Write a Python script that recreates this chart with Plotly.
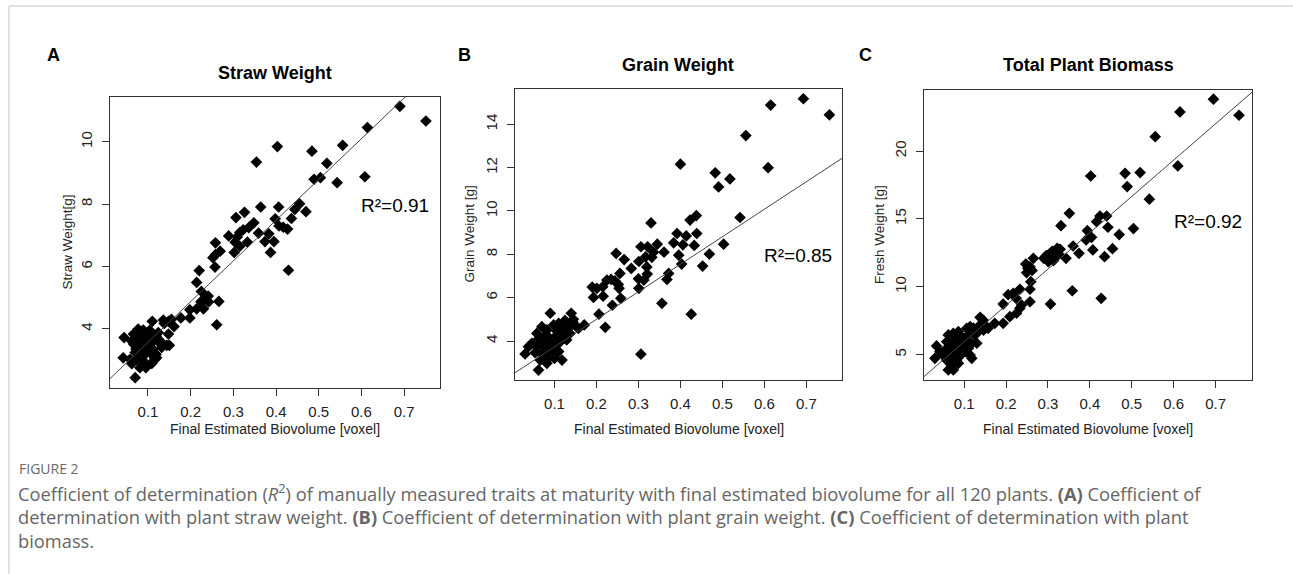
import plotly.graph_objects as go

W, H = 1293, 574

# ---------------- data ----------------
straw_x = [0.690, 0.751, 0.614, 0.608, 0.556, 0.519, 0.543, 0.504, 0.489, 0.484, 0.403, 0.354, 0.455, 0.444,
           0.470, 0.436, 0.427, 0.417, 0.407, 0.406, 0.398, 0.429, 0.364, 0.359, 0.374, 0.395, 0.387, 0.383,
           0.326, 0.306, 0.348, 0.336, 0.323, 0.315, 0.289, 0.309, 0.304, 0.333, 0.315, 0.302, 0.258, 0.269,
           0.258, 0.252, 0.257, 0.220, 0.214, 0.225, 0.241, 0.266, 0.231, 0.242,
           0.261, 0.224, 0.230, 0.214, 0.198, 0.198, 0.177, 0.161, 0.148, 0.136, 0.138, 0.110, 0.148, 0.124,
           0.119, 0.144, 0.150, 0.130, 0.120, 0.115, 0.109, 0.097, 0.081, 0.070, 0.062, 0.042, 0.044,
           0.077, 0.089, 0.066, 0.074, 0.085, 0.097, 0.105, 0.117, 0.066, 0.077, 0.089, 0.101, 0.112, 0.070,
           0.081, 0.093, 0.105, 0.058, 0.088, 0.074, 0.062, 0.079, 0.093, 0.109, 0.101, 0.132, 0.095, 0.119,
           0.116, 0.085, 0.098, 0.072, 0.090, 0.082, 0.104, 0.128, 0.155]
straw_y = [11.14, 10.67, 10.46, 8.88, 9.89, 9.31, 8.69, 8.85, 8.80, 9.70, 9.85, 9.35, 8.01, 7.83,
           7.76, 7.54, 7.20, 7.26, 7.30, 7.91, 7.53, 5.88, 7.91, 7.07, 6.80, 6.80, 6.45, 7.05,
           7.74, 7.57, 7.40, 7.25, 7.18, 7.09, 6.98, 6.95, 6.78, 6.78, 6.65, 6.45, 6.76, 6.49,
           6.38, 6.28, 5.98, 5.87, 5.49, 5.20, 5.05, 4.88, 4.93, 4.86,
           4.13, 4.87, 4.64, 4.64, 4.61, 4.35, 4.35, 4.07, 4.24, 4.28, 4.17, 4.24, 3.83, 3.88,
           3.77, 3.47, 3.47, 3.51, 3.07, 3.07, 2.89, 2.86, 2.75, 2.43, 2.88, 3.07, 3.72,
           3.99, 3.96, 3.83, 3.72, 3.67, 3.77, 3.67, 3.72, 3.51, 3.45, 3.40, 3.45, 3.34, 3.24,
           3.24, 3.18, 3.24, 3.02, 2.97, 3.02, 3.61, 3.86, 3.56, 3.56, 3.88, 3.40, 2.75, 3.18,
           3.02, 3.10, 3.30, 3.35, 3.60, 3.50, 3.95, 3.62, 4.30]

grain_x = [0.693, 0.755, 0.615, 0.609, 0.556, 0.518, 0.542, 0.491, 0.483, 0.503, 0.469, 0.453, 0.400, 0.438,
           0.423, 0.439, 0.414, 0.392, 0.384, 0.406, 0.433, 0.396, 0.403, 0.372, 0.368, 0.356, 0.426, 0.330,
           0.345, 0.361, 0.336, 0.322, 0.306, 0.332, 0.317, 0.301, 0.320, 0.321, 0.300, 0.313, 0.301, 0.283,
           0.266, 0.247, 0.256, 0.254, 0.258, 0.238, 0.235, 0.225, 0.215, 0.201, 0.190, 0.193, 0.216, 0.206,
           0.252, 0.244,
           0.221, 0.306, 0.171, 0.157, 0.140, 0.143, 0.129, 0.129, 0.118, 0.110, 0.090, 0.062, 0.030, 0.038,
           0.054, 0.082, 0.090,
           0.058, 0.070, 0.082, 0.098, 0.110, 0.121, 0.066, 0.078, 0.090, 0.102, 0.114, 0.058, 0.074, 0.090,
           0.102, 0.070, 0.086, 0.098, 0.066, 0.078, 0.137, 0.129, 0.141, 0.153, 0.046,
           0.095, 0.106, 0.085, 0.117, 0.074, 0.062, 0.100, 0.125, 0.145, 0.080]
grain_y = [15.18, 14.44, 14.89, 12.00, 13.48, 11.48, 9.70, 11.11, 11.76, 8.47, 8.01, 7.46, 12.16, 9.79,
           9.58, 8.96, 8.85, 8.96, 8.53, 8.44, 8.41, 7.96, 7.55, 7.12, 6.84, 5.74, 5.24, 9.45,
           8.47, 8.10, 8.10, 8.35, 8.35, 7.86, 7.88, 7.67, 7.42, 7.09, 6.87, 6.81, 6.43, 7.35,
           7.76, 8.04, 7.12, 6.43, 5.97, 5.65, 6.84, 6.81, 6.50, 6.43, 6.49, 6.01, 6.07, 5.24,
           6.61, 6.78,
           4.63, 3.39, 4.74, 4.58, 5.28, 4.89, 4.82, 4.05, 3.12, 3.51, 5.28, 2.66, 3.40, 3.74,
           3.46, 2.97, 3.28,
           4.35, 4.66, 4.51, 4.74, 4.82, 4.66, 4.05, 4.20, 4.05, 4.20, 3.97, 3.74, 3.74, 3.66,
           3.74, 3.43, 3.43, 3.43, 3.12, 3.20, 4.35, 4.51, 4.74, 4.66, 3.89,
           3.90, 4.45, 3.85, 4.25, 3.95, 4.10, 3.20, 4.95, 5.00, 4.30]

biomass_x = [0.695, 0.756, 0.615, 0.610, 0.556, 0.542, 0.520, 0.484, 0.489, 0.504, 0.470, 0.454, 0.435, 0.440,
             0.443, 0.424, 0.416, 0.404, 0.407, 0.394, 0.391, 0.402, 0.427, 0.358, 0.306, 0.351, 0.331, 0.374,
             0.360, 0.343, 0.329, 0.322, 0.305, 0.301, 0.313, 0.290, 0.265, 0.257, 0.247, 0.249, 0.259, 0.257,
             0.233, 0.217, 0.205, 0.224, 0.193, 0.237, 0.138, 0.209,
             0.257, 0.233, 0.225, 0.193, 0.173, 0.157, 0.138, 0.133, 0.114, 0.106, 0.126, 0.118, 0.130, 0.114,
             0.118, 0.110, 0.102, 0.034, 0.030, 0.062, 0.074, 0.070, 0.086, 0.058, 0.145, 0.153,
             0.062, 0.074, 0.086, 0.094, 0.058, 0.070, 0.082, 0.090, 0.054, 0.066, 0.078, 0.094, 0.050, 0.074,
             0.082, 0.102, 0.066, 0.098, 0.042, 0.078,
             0.296, 0.310, 0.318, 0.300, 0.326, 0.252, 0.262, 0.090, 0.086, 0.098, 0.070, 0.062, 0.110, 0.122,
             0.146]
biomass_y = [23.82, 22.64, 22.88, 18.90, 21.06, 16.45, 18.41, 18.36, 17.38, 14.28, 13.84, 12.80, 12.21, 15.21,
             14.38, 15.21, 14.79, 13.64, 12.71, 14.13, 13.44, 18.16, 9.14, 9.70, 8.72, 15.41, 14.50, 12.46,
             13.00, 12.09, 12.76, 12.83, 12.46, 11.84, 11.92, 12.09, 12.09, 11.47, 11.67, 11.03, 10.37, 9.81,
             9.81, 9.51, 9.41, 9.14, 8.72, 8.65, 7.74, 7.79,
             8.89, 8.41, 8.04, 7.30, 7.30, 6.93, 7.18, 6.68, 7.05, 6.93, 6.44, 5.83, 5.83, 4.96,
             4.72, 5.46, 6.07, 5.63, 4.72, 3.86, 3.86, 4.23, 4.35, 4.59, 7.54, 7.05,
             6.44, 6.56, 6.68, 6.31, 5.94, 5.83, 5.94, 5.58, 5.33, 5.21, 5.33, 5.09, 4.96, 4.84,
             4.59, 5.21, 5.58, 5.70, 5.21, 6.19,
             12.30, 12.60, 12.20, 12.00, 12.40, 11.35, 11.20, 4.90, 5.45, 6.00, 5.05, 4.75, 6.45, 6.95,
             6.80]

# fitted regression lines (intercept, slope) as drawn in the figure
fit_straw = [2.26, 13.07]
fit_grain = [2.46, 12.70]
fit_biomass = [3.27, 26.77]

panel_letters = ["A", "B", "C"]
panel_titles = ["Straw Weight", "Grain Weight", "Total Plant Biomass"]
y_titles = ["Straw Weight[g]", "Grain Weight [g]", "Fresh Weight [g]"]
x_title = "Final Estimated Biovolume [voxel]"
r2_labels = ["R²=0.91", "R²=0.85", "R²=0.92"]
x_ticks = [0.1, 0.2, 0.3, 0.4, 0.5, 0.6, 0.7]
y_ticks = [[4, 6, 8, 10], [4, 6, 8, 10, 12, 14], [5, 10, 15, 20]]

# ---------------- layout geometry (pixels) ----------------
boxes = [(110, 97, 440, 388), (515, 89, 842, 380), (924, 90, 1252, 380)]
x_ranges = [[0.011, 0.784], [0.006, 0.785], [0.004, 0.787]]
y_ranges = [[2.10, 11.44], [2.20, 15.63], [3.12, 24.50]]
letter_pos = [(53, 55), (464, 55), (865, 55)]
title_pos = [(275, 73), (678, 65), (1088, 65)]
r2_pos = [(395, 206), (798, 255), (1208, 221)]
ytitle_x = [67, 469, 879]

def px(x):
    return x / W

def py(y):
    return 1 - y / H

FONT = "Liberation Sans, Arial, sans-serif"
fig = go.Figure()

series = [(straw_x, straw_y, fit_straw), (grain_x, grain_y, fit_grain), (biomass_x, biomass_y, fit_biomass)]
annotations = []
for i, (xs, ys, fit) in enumerate(series):
    n = "" if i == 0 else str(i + 1)
    xa, ya = "x" + n, "y" + n
    fig.add_trace(go.Scatter(x=xs, y=ys, mode="markers", xaxis=xa, yaxis=ya,
                             marker=dict(symbol="diamond", size=9, color="black", line=dict(width=0)),
                             showlegend=False))
    lx = x_ranges[i]
    fig.add_trace(go.Scatter(x=lx, y=[fit[0] + fit[1] * v for v in lx], mode="lines", xaxis=xa, yaxis=ya,
                             line=dict(color="#444444", width=1), showlegend=False))
    l, t, r, b = boxes[i]
    axis_common = dict(showline=True, linecolor="#333333", linewidth=1, mirror=True, showgrid=False,
                       zeroline=False, ticks="outside", ticklen=7, tickcolor="#333333",
                       tickfont=dict(family=FONT, size=15, color="#222222"))
    fig.layout["xaxis" + n] = dict(domain=[px(l), px(r)], range=x_ranges[i], tickvals=x_ticks,
                                  anchor=ya, ticklabelstandoff=3, **axis_common)
    fig.layout["yaxis" + n] = dict(domain=[py(b), py(t)], range=y_ranges[i], tickvals=y_ticks[i],
                                  anchor=xa, tickangle=-90, ticklabelstandoff=4, **axis_common)
    cx = (l + r) / 2
    cy = (t + b) / 2
    annotations += [
        dict(text=f"<b>{panel_letters[i]}</b>", x=px(letter_pos[i][0]), y=py(letter_pos[i][1]),
             font=dict(family=FONT, size=18, color="black")),
        dict(text=f"<b>{panel_titles[i]}</b>", x=px(title_pos[i][0]), y=py(title_pos[i][1]),
             font=dict(family=FONT, size=18, color="black")),
        dict(text=r2_labels[i], x=px(r2_pos[i][0]), y=py(r2_pos[i][1]),
             font=dict(family=FONT, size=19, color="black")),
        dict(text=y_titles[i], x=px(ytitle_x[i]), y=py(cy), textangle=-90,
             font=dict(family=FONT, size=13.5, color="#222222")),
        dict(text=x_title, x=px(cx), y=py(429), font=dict(family=FONT, size=14, color="#222222")),
    ]

for a in annotations:
    a.update(xref="paper", yref="paper", showarrow=False, xanchor="center", yanchor="middle")

CAP = "Open Sans, sans-serif"
caption_lines = [
    "Coefficient of determination (<i>R</i><sup>2</sup>) of manually measured traits at maturity with final "
    "estimated biovolume for all 120 plants. <b>(A)</b> Coefficient of",
    "determination with plant straw weight. <b>(B)</b> Coefficient of determination with plant grain weight. "
    "<b>(C)</b> Coefficient of determination with plant",
    "biomass.",
]
annotations.append(dict(text="FIGURE 2", x=px(17), y=py(469), xref="paper", yref="paper", showarrow=False,
                        xanchor="left", yanchor="middle", font=dict(family=CAP, size=14, color="#6a6a6a")))
for k, line in enumerate(caption_lines):
    annotations.append(dict(text=line, x=px(16), y=py(492 + 24 * k), xref="paper", yref="paper",
                            showarrow=False, xanchor="left", yanchor="middle",
                            font=dict(family=CAP, size=18.3, color="#666666")))

fig.update_layout(
    width=W, height=H, margin=dict(l=0, r=0, t=0, b=0),
    paper_bgcolor="white", plot_bgcolor="white",
    annotations=annotations,
    shapes=[
        dict(type="line", xref="paper", yref="paper", x0=px(9), x1=1, y0=py(6), y1=py(6),
             line=dict(color="#c4c4c4", width=1)),
        dict(type="line", xref="paper", yref="paper", x0=px(9), x1=px(9), y0=py(6), y1=0,
             line=dict(color="#c4c4c4", width=1)),
    ],
)

fig.write_html("out.html", config={"displayModeBar": False},
               post_script="document.body.style.margin='0';document.body.style.overflow='hidden';")
